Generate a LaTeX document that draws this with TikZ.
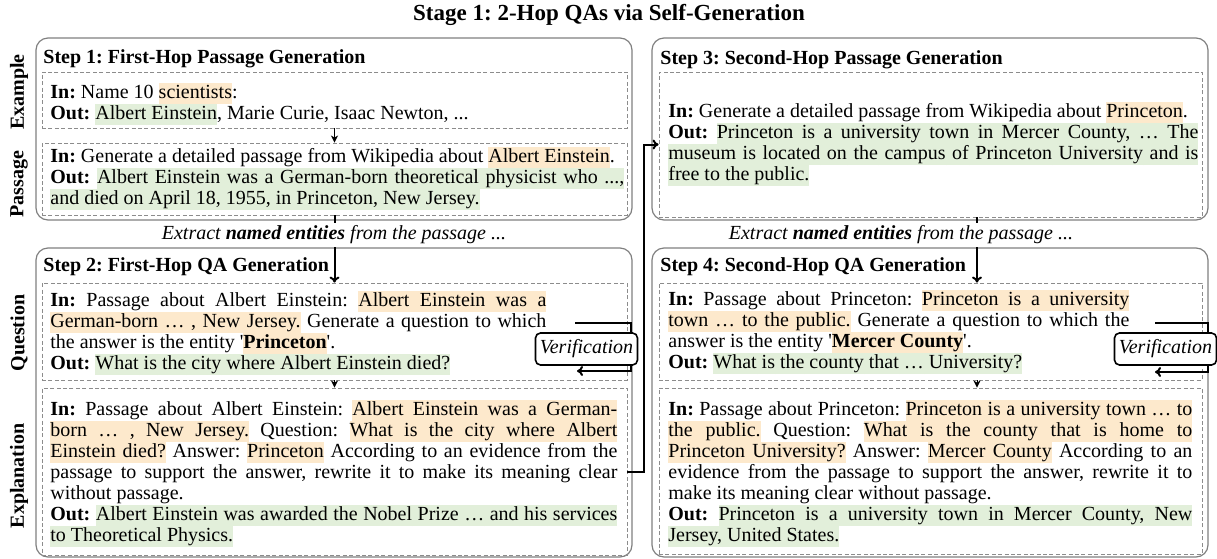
\documentclass[tikz,border=0pt]{standalone}
\usepackage{fontspec}
\setmainfont{Liberation Serif}
\usepackage{xcolor}
\usetikzlibrary{arrows.meta, positioning}
\definecolor{hlorange}{HTML}{FDE9CC}
\definecolor{hlgreen}{HTML}{E2EFDA}
\frenchspacing
% highlighting, word by word so that justified lines still stretch
\def\hlstrut{\rule[-2.9pt]{0pt}{10.5pt}}
\def\hlword#1#2{{\setlength\fboxsep{0pt}\colorbox{#1}{\hlstrut#2}}}
\def\hlgap#1{{\color{#1}\leaders\vrule height 7.6pt depth 2.9pt\hskip\fontdimen2\font plus\fontdimen3\font minus\fontdimen4\font}}
\def\hlrun#1#2 #3\hlend{\hlword{#1}{#2}\ifx\relax#3\relax\else\hlgap{#1}\hlrun{#1}#3\hlend\fi}
\def\hlo#1{\hlrun{hlorange}#1 \hlend}
\def\hlg#1{\hlrun{hlgreen}#1 \hlend}
\def\q{\textquotesingle}

\begin{document}
\begin{tikzpicture}[x=0.5pt,y=-0.5pt,
  outer/.style={draw=black!50,line width=0.6pt,rounded corners=6pt},
  dbox/.style={draw=black!45,line width=0.45pt,dash pattern=on 2pt off 1.2pt},
  txt/.style={anchor=north west,inner sep=0pt,align=justify,font={\fontsize{10}{10.5}\selectfont\frenchspacing\tolerance=9999\hyphenpenalty=10000},execute at begin node={\noindent\hlstrut}},
  steptitle/.style={anchor=west,inner sep=0pt,font=\bfseries\fontsize{10}{12}\selectfont},
  rowlabel/.style={rotate=90,inner sep=0pt,font=\bfseries\fontsize{10}{12}\selectfont},
  exlabel/.style={fill=white,inner sep=1.5pt,font=\itshape\fontsize{10}{12}\selectfont},
  verbox/.style={draw,line width=0.8pt,rounded corners=2.5pt,fill=white,minimum width=51pt,minimum height=16pt,inner sep=1pt,font=\itshape\fontsize{10}{12}\selectfont},
  link/.style={line width=1pt,-{To[length=3pt,width=5pt]}},
  slink/.style={line width=0.5pt,-{Stealth[length=3.5pt,width=3.5pt,inset=1pt]}}]
\useasboundingbox (0,0) rectangle (1217,558);
\node[font=\bfseries\fontsize{11.5}{13}\selectfont] (title) at (609,15) {Stage 1: 2-Hop QAs via Self-Generation};

% frames of the four steps
\node[outer,minimum width=298pt,minimum height=91pt] (step1) at (334,129) {};
\node[outer,minimum width=298pt,minimum height=154.5pt] (step2) at (334,402.5) {};
\node[outer,minimum width=278pt,minimum height=91pt] (step3) at (930,129) {};
\node[outer,minimum width=278pt,minimum height=154.5pt] (step4) at (930,402.5) {};

\node[dbox,minimum width=292.5pt,minimum height=28pt] (ex1) at (334.5,100) {};
\node[dbox,minimum width=292.5pt,minimum height=36pt] (pass1) at (334.5,179) {};
\node[dbox,minimum width=292.5pt,minimum height=48.5pt] (q1) at (334.5,331.5) {};
\node[dbox,minimum width=292.5pt,minimum height=83.5pt] (e1) at (334.5,471.5) {};
\node[dbox,minimum width=271.5pt,minimum height=72.5pt] (pass2) at (930.5,144.5) {};
\node[dbox,minimum width=271.5pt,minimum height=48.5pt] (q2) at (930.5,331.5) {};
\node[dbox,minimum width=271.5pt,minimum height=83pt] (e2) at (930.5,471) {};

\node[steptitle] (t1) at (43,59) {Step 1: First-Hop Passage Generation};
\node[steptitle] (t2) at (43,267) {Step 2: First-Hop QA Generation};
\node[steptitle] (t3) at (660,60) {Step 3: Second-Hop Passage Generation};
\node[steptitle] (t4) at (660,267) {Step 4: Second-Hop QA Generation};

\node[rowlabel] (lex) at (19,92) {Example};
\node[rowlabel] (lpass) at (19,184) {Passage};
\node[rowlabel] (lq) at (19,333) {Question};
\node[rowlabel] (le) at (19,476) {Explanation};

% texts
\node[txt,text width=287pt] (ex1txt) at (50,83) {\textbf{In:} Name 10 \hlo{scientists}:\newline
\textbf{Out:} \hlg{Albert Einstein}, Marie Curie, Isaac Newton, ...};
\node[txt,text width=287pt] (pass1txt) at (50,147) {\textbf{In:} Generate a detailed passage from Wikipedia about \hlo{Albert Einstein}.\newline
\textbf{Out:} \hlg{Albert Einstein was a German-born theoretical physicist who ...,}\linebreak
\hlg{and died on April 18, 1955, in Princeton, New Jersey.}};
\node[txt,text width=248pt] (q1txt) at (50,291) {\textbf{In:} Passage about Albert Einstein: \hlo{Albert Einstein was a}\linebreak
\hlo{German-born … , New Jersey.} Generate a question to which\linebreak
the answer is the entity \q\hlo{\textbf{Princeton}}\q.\newline
\textbf{Out:} \hlg{What is the city where Albert Einstein died?}};
\node[txt,text width=283.5pt] (e1txt) at (50,400) {\textbf{In:} Passage about Albert Einstein: \hlo{Albert Einstein was a German-}\linebreak
\hlo{born … , New Jersey.} Question: \hlo{What is the city where Albert}\linebreak
\hlo{Einstein died?} Answer: \hlo{Princeton} According to an evidence from the\linebreak
passage to support the answer, rewrite it to make its meaning clear\linebreak
without passage.\newline
\textbf{Out:} \hlg{Albert Einstein was awarded the Nobel Prize … and his services}\linebreak
\hlg{to Theoretical Physics.}};
\node[txt,text width=265pt] (pass2txt) at (668,102) {\textbf{In:} Generate a detailed passage from Wikipedia about \hlo{Princeton}.\newline
\textbf{Out:} \hlg{Princeton is a university town in Mercer County, … The}\linebreak
\hlg{museum is located on the campus of Princeton University and is}\linebreak
\hlg{free to the public.}};
\node[txt,text width=230.5pt] (q2txt) at (668,290) {\textbf{In:} Passage about Princeton: \hlo{Princeton is a university}\linebreak
\hlo{town … to the public.} Generate a question to which the\linebreak
answer is the entity \q\hlo{\textbf{Mercer County}}\q.\newline
\textbf{Out:} \hlg{What is the county that … University?}};
\node[txt,text width=262pt] (e2txt) at (668,400) {\textbf{In:} Passage about Princeton: \hlo{Princeton is a university town … to}\linebreak
\hlo{the public.} Question: \hlo{What is the county that is home to}\linebreak
\hlo{Princeton University?} Answer: \hlo{Mercer County} According to an\linebreak
evidence from the passage to support the answer, rewrite it to\linebreak
make its meaning clear without passage.\newline
\textbf{Out:} \hlg{Princeton is a university town in Mercer County, New}\linebreak
\hlg{Jersey, United States.}};

% connectors
\coordinate (ax) at (977,0);
\draw[slink] (ex1.south) -- (pass1.north);
\draw[link] (pass1.south) -- (q1.north);
\draw[slink] (q1.south) -- (e1.north);
\draw[link] (pass2.south -| ax) -- (q2.north -| ax);
\draw[slink] (q2.south -| ax) -- (e2.north -| ax);
\draw[link] (e1.east) -- ++(17,0) |- (pass2.west);

\node[exlabel] (ext1) at (334,235) {Extract \textbf{named entities} from the passage ...};
\node[exlabel] (ext2) at (901,235) {Extract \textbf{named entities} from the passage ...};

% verification loops
\coordinate (v1a) at (575,323);
\coordinate (v1b) at (577,371);
\coordinate (v2a) at (1155,323);
\coordinate (v2b) at (1155,372);
\draw[link] (v1a) -- (631,323) -- (631,371) -- (v1b);
\draw[link] (v2a) -- (1208,323) -- (1208,372) -- (v2b);
\node[verbox] (ver1) at (586.5,349) {Verification};
\node[verbox] (ver2) at (1165.5,349) {Verification};
\end{tikzpicture}
\end{document}
